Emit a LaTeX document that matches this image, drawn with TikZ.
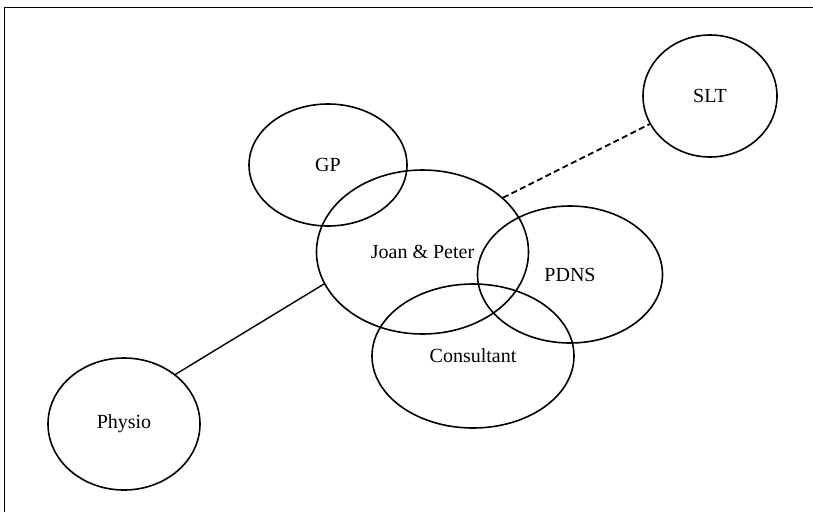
\documentclass[tikz,border=0pt]{standalone}
\usepackage{fontspec}
\setmainfont{Liberation Serif}
\usetikzlibrary{shapes.geometric}
\begin{document}
\begin{tikzpicture}[x=1pt,y=-1pt,
  circ/.style={draw, ellipse, inner sep=0pt, line width=1.6pt, font=\fontsize{20}{23}\selectfont},
  frameline/.style={line width=1.2pt}]
\useasboundingbox (0,0) rectangle (813,512);
\coordinate (tl) at (4.5,7.5);
\coordinate (tr) at (813,7.5);
\coordinate (bl) at (4.5,512);
\draw[frameline] (tr) -- (tl) -- (bl);
\node[circ, minimum width=134pt, minimum height=122pt] (slt) at (710,96) {SLT};
\node[circ, minimum width=158pt, minimum height=122pt] (gp) at (328,165) {GP};
\node[circ, minimum width=212pt, minimum height=164pt] (jp) at (422.5,252) {Joan \& Peter};
\node[circ, minimum width=185pt, minimum height=137pt] (pdns) at (570,274.5) {PDNS};
\node[circ, minimum width=202pt, minimum height=144pt] (cons) at (473,356) {Consultant};
\node[circ, minimum width=152pt, minimum height=132pt] (physio) at (124,424) {Physio};
\draw[line width=1.8pt, dash pattern=on 6pt off 3.5pt] (jp.34.7) -- (slt.205.8);
\draw[line width=1.4pt] (jp.198.8) -- (physio.44.4);
\end{tikzpicture}
\end{document}
